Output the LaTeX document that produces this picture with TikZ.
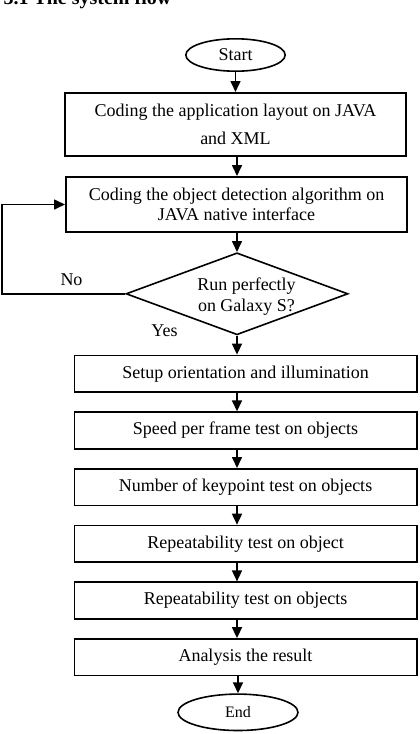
\documentclass[tikz,border=0pt]{standalone}
\usepackage{fontspec}
\setmainfont{Liberation Serif}
\usetikzlibrary{arrows.meta,positioning,shapes.geometric}

\begin{document}
\begin{tikzpicture}[
  x=1pt, y=1pt,
  node distance=19pt,
  every node/.style={font=\fontsize{18}{20.5}\selectfont,align=center},
  box/.style={draw,line width=1.6pt,inner sep=0pt,minimum width=341.4pt},
  stepbox/.style={box,minimum width=342.4pt,minimum height=36.6pt},
  term/.style={draw,ellipse,line width=1.6pt,inner sep=0pt},
  decision/.style={draw,diamond,line width=1.6pt,inner sep=0pt,minimum width=222pt,minimum height=82pt},
  arr/.style={-{Triangle[length=11pt,width=10pt]},line width=1.6pt}
]
\useasboundingbox (0,0) rectangle (420,-734);
\node[anchor=base west,font=\fontsize{20}{24}\selectfont\bfseries] (title) at (0,-4.5) {3.1 The system flow};

\node[term,minimum width=99.4pt,minimum height=32.4pt] (start) at (235.5,-55) {Start};
\node[box,minimum height=63.4pt,below=20pt of start] (layout) {Coding the application layout on JAVA\\[7.2pt]and XML};
\node[box,minimum height=55.4pt,below=of layout,xshift=1pt] (detect) {Coding the object detection algorithm on\\JAVA native interface};
\node[decision,below=of detect,xshift=.5pt] (run) {};
\node[xshift=9.5pt,yshift=-3pt] (runtxt) at (run) {Run perfectly\\on Galaxy S?};
\node[stepbox,below=of run,xshift=8.5pt] (setup) {Setup orientation and illumination};
\node[stepbox,below=18.5pt of setup] (speed) {Speed per frame test on objects};
\node[stepbox,below=18.5pt of speed] (keypt) {Number of keypoint test on objects};
\node[stepbox,below=18.5pt of keypt] (rept1) {Repeatability test on object};
\node[stepbox,below=18.5pt of rept1] (rept2) {Repeatability test on objects};
\node[stepbox,below=18.5pt of rept2] (result) {Analysis the result};
\node[term,minimum width=120pt,minimum height=36.4pt,below=17pt of result,xshift=-7.5pt,font=\fontsize{16}{19}\selectfont] (end) {End};

% branch labels
\node[anchor=base] (no) at (71.5,-285) {No};
\node[anchor=base] (yes) at (164.5,-336.7) {Yes};
\coordinate[left=123pt of run.west] (back);

\draw[arr] (start) -- (layout);
\draw[arr] (layout.south -| run) -- (detect.north -| run);
\draw[arr] (detect.south -| run) -- (run.north);
\draw[arr] (run.west) -- (back) |- (detect.west);
\draw[arr] (run.south) -- (setup.north -| run);
\draw[arr] (setup.south -| run) -- (speed.north -| run);
\draw[arr] (speed.south -| run) -- (keypt.north -| run);
\draw[arr] (keypt.south -| run) -- (rept1.north -| run);
\draw[arr] (rept1.south -| run) -- (rept2.north -| run);
\draw[arr] (rept2.south -| run) -- (result.north -| run);
\draw[arr] (result.south -| end) -- (end.north);
\end{tikzpicture}
\end{document}
